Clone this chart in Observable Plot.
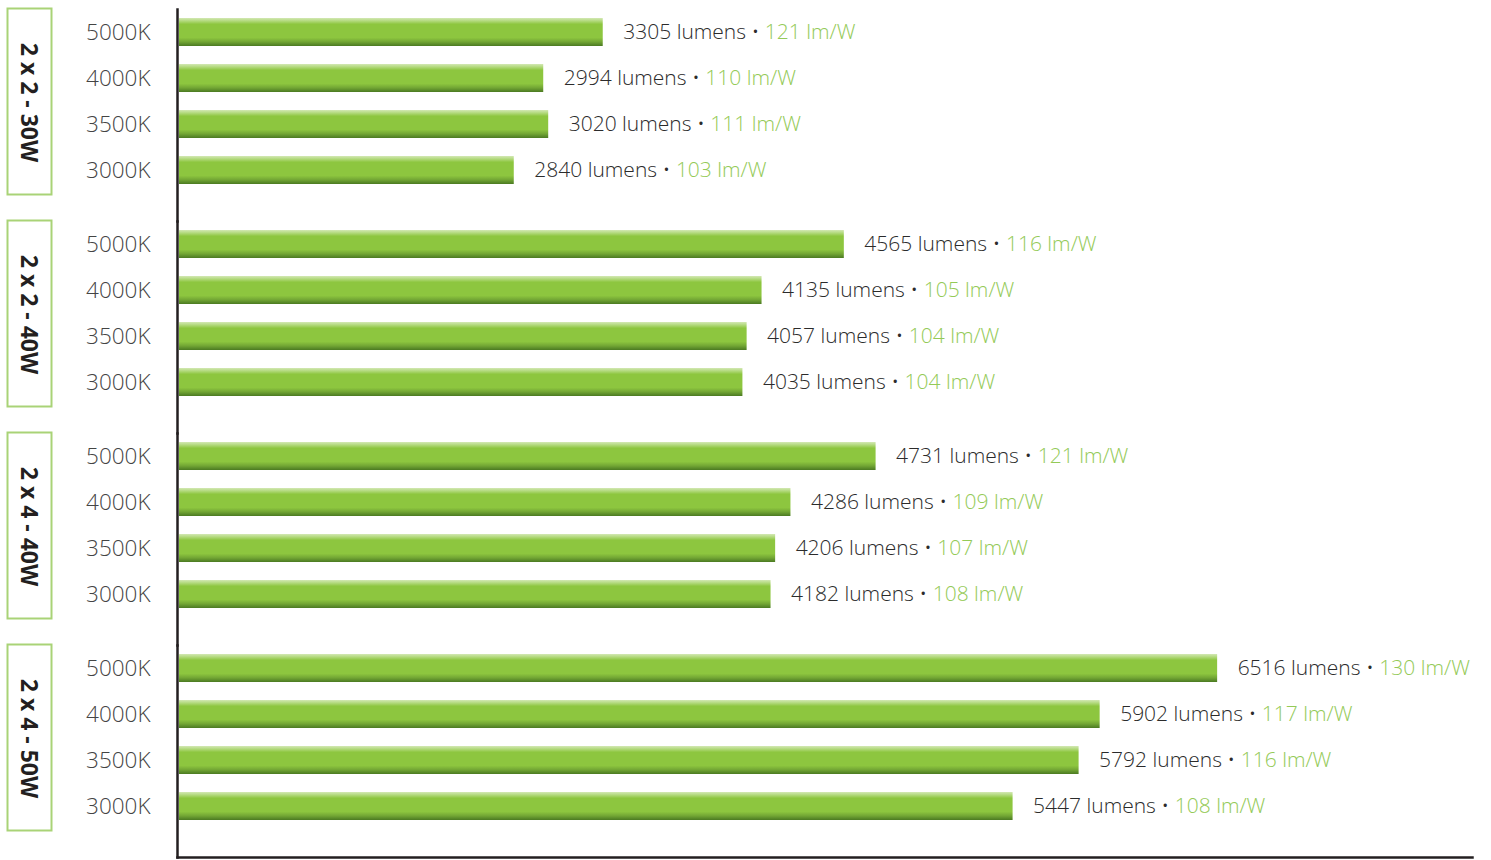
<!DOCTYPE html>
<html><head><meta charset="utf-8">
<script src="https://cdn.jsdelivr.net/npm/d3@7"></script>
<script src="https://cdn.jsdelivr.net/npm/@observablehq/plot@0.6"></script>
<style>body{margin:0;background:#fff}</style>
</head><body><div id="chart"></div>
<script>
const groups = ["2 x 2 - 30W", "2 x 2 - 40W", "2 x 4 - 40W", "2 x 4 - 50W"];
const temps = ["5000K", "4000K", "3500K", "3000K"];
const lumens_2x2_30W = [3305, 2994, 3020, 2840];
const lumens_2x2_40W = [4565, 4135, 4057, 4035];
const lumens_2x4_40W = [4731, 4286, 4206, 4182];
const lumens_2x4_50W = [6516, 5902, 5792, 5447];
const efficacy_2x2_30W = [121, 110, 111, 103];
const efficacy_2x2_40W = [116, 105, 104, 104];
const efficacy_2x4_40W = [121, 109, 107, 108];
const efficacy_2x4_50W = [130, 117, 116, 108];
const xDomain = [1080, 7848];

const lumensByGroup = [lumens_2x2_30W, lumens_2x2_40W, lumens_2x4_40W, lumens_2x4_50W];
const effByGroup = [efficacy_2x2_30W, efficacy_2x2_40W, efficacy_2x4_40W, efficacy_2x4_50W];
const rows = groups.flatMap((g, gi) => temps.map((t, ti) => ({
  group: g, temp: t, lumens: lumensByGroup[gi][ti], efficacy: effByGroup[gi][ti]
})));

const font = "'Open Sans', sans-serif";
const chart = Plot.plot({
  width: 1491,
  height: 860,
  marginTop: 7,
  marginBottom: 2,
  marginLeft: 177,
  marginRight: 19,
  style: {fontFamily: font, fontSize: "22px", background: "#fff"},
  x: {domain: xDomain, axis: null},
  y: {domain: temps, axis: null, paddingInner: 0.398, paddingOuter: 0.487, align: 0.2},
  fy: {domain: groups, axis: null, padding: 0},
  marks: [
    Plot.frame({stroke: "#a9d377", strokeWidth: 2, insetLeft: -170, insetRight: 1421, insetTop: -1, insetBottom: 27}),
    Plot.text(groups, {fy: d => d, text: d => d, frameAnchor: "left", textAnchor: "middle", dx: -149, dy: -13, rotate: 90,
      fontSize: 23, fontWeight: "bold", fill: "#231f20", fontFamily: font}),
    Plot.axisY({tickSize: 0, tickPadding: 27, color: "#444", fontSize: 22.5, fontWeight: 300, label: null}),
    Plot.barX(rows, {fy: "group", y: "temp", x1: () => xDomain[0], x2: "lumens", insetLeft: 2, fill: "url(#barGrad)"}),
    Plot.text(rows, {fy: "group", y: "temp", x: "lumens", textAnchor: "start", dx: 20,
      text: d => `${d.lumens} lumens • ${d.efficacy} lm/W`, fontSize: 21, fontWeight: 300,
      fill: "#2b2b2b", className: "vlabel"}),
    Plot.frame({anchor: "left", stroke: "#231f20", strokeWidth: 2.5}),
    Plot.frame({anchor: "bottom", fy: [groups[3]], stroke: "#231f20", strokeWidth: 2.5})
  ]
});

chart.insertAdjacentHTML("afterbegin", `<defs><linearGradient id="barGrad" x1="0" y1="0" x2="0" y2="1">
<stop offset="0" stop-color="#d3e8b4"/><stop offset="0.1" stop-color="#b4da80"/>
<stop offset="0.22" stop-color="#8dc63f"/><stop offset="0.7" stop-color="#8dc63f"/>
<stop offset="0.85" stop-color="#72a634"/><stop offset="1" stop-color="#4b7a22"/>
</linearGradient></defs>`);

document.getElementById("chart").appendChild(chart);

d3.select(chart).selectAll(".vlabel text").each(function() {
  const t = this.textContent;
  const i = t.indexOf("•");
  const a = t.slice(0, i + 1) + " ";
  const b = t.slice(i + 2);
  const sel = d3.select(this);
  sel.text(null);
  sel.append("tspan").text(a);
  sel.append("tspan").attr("fill", "#94ca57").text(b);
});
</script>
</body></html>
